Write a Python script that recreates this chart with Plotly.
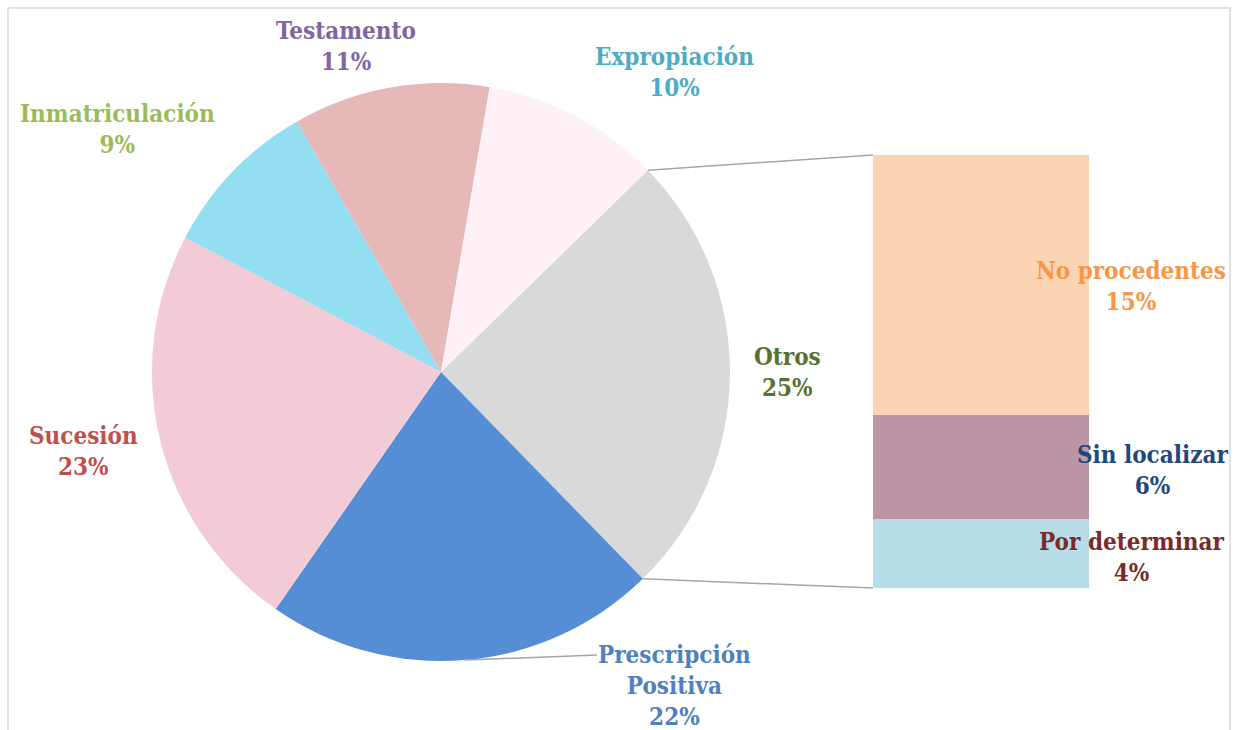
import math
import plotly.graph_objects as go

# ---- data ----
pie_labels = ["Otros", "Prescripción<br>Positiva", "Sucesión", "Inmatriculación", "Testamento", "Expropiación"]
pie_values = [25, 22, 23, 9, 11, 10]
pie_colors = ["#D9D9D9", "#558ED5", "#F2CBD7", "#93DEF0", "#E6B9B8", "#FDF1F7"]
pie_text_colors = ["#587030", "#4F81BD", "#C0504D", "#9BBB59", "#8064A2", "#4BACC6"]

bar_labels = ["Por determinar", "Sin localizar", "No procedentes"]
bar_values = [4, 6, 15]
bar_colors = ["#B7DDE8", "#BC96A6", "#FBD4B4"]
bar_text_colors = ["#772C2A", "#1F497D", "#F79646"]

# ---- layout (pixels) ----
W, H = 1238, 730
pie_cx, pie_cy, pie_r = 441, 372, 289
rotation = 45.7
bar_x0, bar_x1, bar_top, bar_bot = 873, 1089, 155, 588

pie_label_pos = [(787, 372), (674, 685), (83, 451), (117, 129), (346, 46), (674, 72)]
bar_label_pos = [(1132, 557), (1152, 470), (1131, 286)]

FONT = "DejaVu Serif Condensed, Liberation Serif, serif"
FS = 24


def px(x):
    return x / W


def py(y):
    return 1 - y / H


fig = go.Figure()
fig.add_trace(go.Pie(
    labels=pie_labels, values=pie_values, sort=False, direction="clockwise",
    rotation=rotation, marker=dict(colors=pie_colors, line=dict(width=0)),
    textinfo="none", hoverinfo="label+percent", showlegend=False,
    domain=dict(x=[px(pie_cx - pie_r), px(pie_cx + pie_r)],
                y=[py(pie_cy + pie_r), py(pie_cy - pie_r)]),
))

for lab, val, col in zip(bar_labels, bar_values, bar_colors):
    fig.add_trace(go.Bar(x=[0], y=[val], name=lab, marker=dict(color=col, line=dict(width=0)),
                         width=1, xaxis="x2", yaxis="y2", showlegend=False))

total = sum(pie_values)
annotations = []
for labs, vals, cols, poss in [(pie_labels, pie_values, pie_text_colors, pie_label_pos),
                               (bar_labels, bar_values, bar_text_colors, bar_label_pos)]:
    for lab, val, col, (x, y) in zip(labs, vals, cols, poss):
        annotations.append(dict(x=px(x), y=py(y), xref="paper", yref="paper", showarrow=False,
                                xanchor="center", yanchor="middle",
                                text=f"<b>{lab}<br>{round(100 * val / total)}%</b>",
                                font=dict(family=FONT, size=FS, color=col), align="center"))

# connector lines from Otros slice edges to bar corners
a0 = math.radians(rotation)
a1 = math.radians(rotation + 360 * pie_values[0] / total)
shapes = []
for ang, by in [(a0, bar_top), (a1, bar_bot)]:
    sx = pie_cx + pie_r * math.sin(ang)
    sy = pie_cy - pie_r * math.cos(ang)
    shapes.append(dict(type="line", xref="paper", yref="paper", x0=px(sx), y0=py(sy),
                       x1=px(bar_x0), y1=py(by), line=dict(color="#A6A6A6", width=1.5)))
# leader line for Prescripción
mid = math.radians(rotation + 360 * (pie_values[0] + pie_values[1] / 2) / total)
lx = pie_cx + pie_r * math.sin(mid)
ly = pie_cy - pie_r * math.cos(mid)
shapes.append(dict(type="line", xref="paper", yref="paper", x0=px(lx), y0=py(ly),
                   x1=px(597), y1=py(655), line=dict(color="#A6A6A6", width=1.5)))
# chart border
shapes.append(dict(type="rect", xref="paper", yref="paper", x0=px(8), y0=py(745), x1=px(1230), y1=py(8),
                   line=dict(color="#D9D9D9", width=1.5), fillcolor="rgba(0,0,0,0)", layer="below"))

fig.update_layout(
    width=W, height=H, margin=dict(l=0, r=0, t=0, b=0),
    paper_bgcolor="white", plot_bgcolor="rgba(0,0,0,0)", barmode="stack", bargap=0,
    xaxis2=dict(domain=[px(bar_x0), px(bar_x1)], range=[-0.5, 0.5], visible=False, anchor="y2", fixedrange=True),
    yaxis2=dict(domain=[py(bar_bot), py(bar_top)], range=[0, sum(bar_values)], visible=False, anchor="x2", fixedrange=True),
    xaxis=dict(visible=False), yaxis=dict(visible=False),
    annotations=annotations, shapes=shapes,
)

fig.write_html("out.html", config={"displayModeBar": False},
               post_script="document.body.style.margin='0';document.body.style.overflow='hidden';")
